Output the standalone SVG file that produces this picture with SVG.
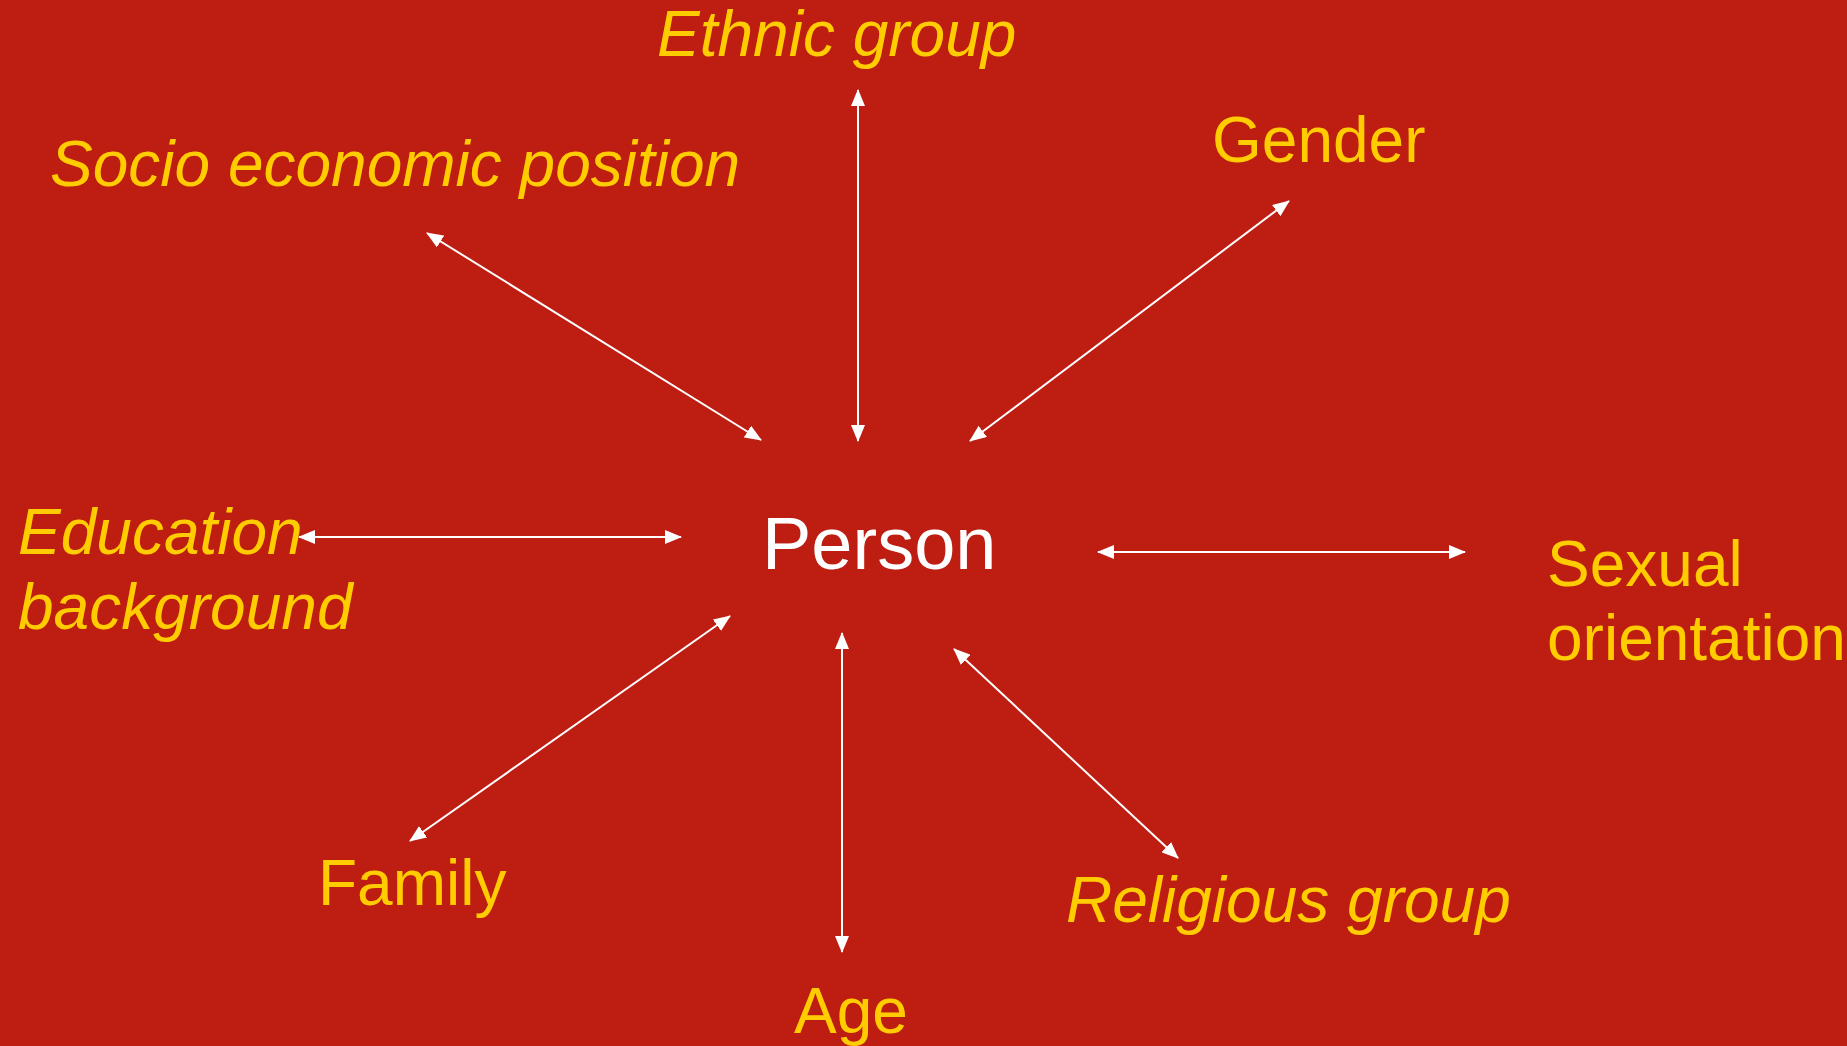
<svg xmlns="http://www.w3.org/2000/svg" width="1847" height="1046" viewBox="0 0 1847 1046">
<style>
.lbl{font-family:"Liberation Sans",Arial,sans-serif;font-size:64px;fill:#FFCC00}
.it{font-style:italic}
.person{font-family:"Liberation Sans",Arial,sans-serif;font-size:74px;fill:#FFFFFF}
.conn line{stroke:#FFFFFF;stroke-width:2;marker-start:url(#ah);marker-end:url(#ah)}
</style>
<defs>
<marker id="ah" markerUnits="userSpaceOnUse" markerWidth="17" markerHeight="14" refX="16" refY="7" orient="auto-start-reverse">
<path d="M0,0 L17,7 L0,14 z" fill="#FFFFFF"/>
</marker>
</defs>
<rect x="0" y="0" width="1847" height="1046" fill="#BE1D12"/>
<g id="connectors" class="conn">
<line x1="427" y1="233" x2="761" y2="440"/>
<line x1="858" y1="90" x2="858" y2="441"/>
<line x1="1289" y1="201" x2="970" y2="441"/>
<line x1="299" y1="537" x2="681" y2="537"/>
<line x1="1098" y1="552" x2="1465" y2="552"/>
<line x1="410" y1="841" x2="730" y2="616"/>
<line x1="842" y1="633" x2="842" y2="952"/>
<line x1="954" y1="649" x2="1178" y2="858"/>
</g>
<g id="person"><text class="person" x="762" y="569">Person</text></g>
<g id="ethnic"><text class="lbl it" x="657" y="56">Ethnic group</text></g>
<g id="socio"><text class="lbl it" x="50" y="186">Socio economic position</text></g>
<g id="gender"><text class="lbl" x="1212" y="162">Gender</text></g>
<g id="education"><text class="lbl it" x="18" y="554">Education</text><text class="lbl it" x="18" y="629">background</text></g>
<g id="sexual"><text class="lbl" x="1547" y="586">Sexual</text><text class="lbl" x="1547" y="660">orientation</text></g>
<g id="family"><text class="lbl" x="318" y="905">Family</text></g>
<g id="age"><text class="lbl" x="794" y="1033">Age</text></g>
<g id="religious"><text class="lbl it" x="1066" y="922">Religious group</text></g>
</svg>
